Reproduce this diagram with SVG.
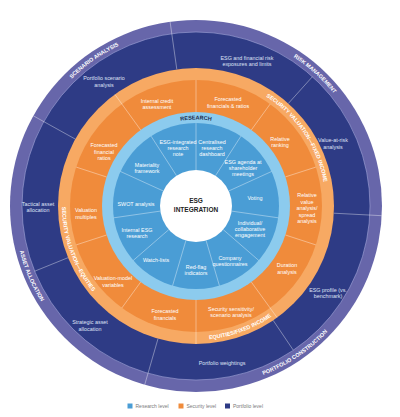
<svg xmlns="http://www.w3.org/2000/svg" width="400" height="417" viewBox="0 0 400 417">
<style>
.t{font-family:"Liberation Sans",Arial,sans-serif;font-size:5.4px;text-anchor:middle}
.w{fill:#ffffff}
.n{fill:#dfe2f5}
.b{font-family:"Liberation Sans",Arial,sans-serif;font-weight:bold;font-size:5.5px;fill:#ffffff}
.r{fill:#1c2a4c}
.dv{stroke:#ffffff;stroke-opacity:0.55;stroke-width:0.7;fill:none}
.lg{font-family:"Liberation Sans",Arial,sans-serif;font-size:5px;fill:#7a7a7a}
</style>
<defs>
<path id="pScen" d="M34.7,130.8 A178,178 0 0 1 180.5,28.7"/>
<path id="pRisk" d="M233.0,31.9 A178,178 0 0 1 365.3,151.0"/>
<path id="pPort" d="M177.0,387.0 A182,182 0 0 0 371.0,256.2"/>
<path id="pAsset" d="M22.0,152.8 A182,182 0 0 0 113.4,368.2"/>
<path id="pFix" d="M209.6,76.7 A130,130 0 0 1 321.0,241.8"/>
<path id="pEq" d="M80.0,139.0 A134,134 0 0 0 150.2,331.9"/>
<path id="pEF" d="M150.2,331.9 A134,134 0 0 0 312.0,273.0"/>
<path id="pRes" d="M140.4,139.7 A86.5,86.5 0 0 1 251.6,139.7"/>
</defs>
<rect width="400" height="417" fill="#ffffff"/>
<g id="rings">
<circle cx="196" cy="206" r="186" fill="#6766aa"/>
<circle cx="196" cy="206" r="174" fill="#2e3b85" stroke="#a3a6d8" stroke-width="0.6"/>
<circle cx="196" cy="206" r="138" fill="#f7a963"/>
<circle cx="196" cy="206" r="126" fill="#f08b3b"/>
<circle cx="196" cy="206" r="94" fill="#8ccbee"/>
<circle cx="196" cy="206" r="83" fill="#4a9dd5"/>
<circle cx="196" cy="206" r="36" fill="#ffffff"/>
</g>
<g id="connectors">
<path class="dv" d="M176.8,69.3L170.1,21.8M333.8,213.2L381.7,215.7M158.0,338.7L144.7,384.8M75.3,139.1L33.3,115.8"/>
<path class="dv" d="M288.3,103.5L312.4,76.7M273.2,320.4L293.3,350.2M68.0,257.7L34.7,271.2"/>
<path class="dv" d="M140.7,130.0L114.9,94.4M251.3,282.0L277.1,317.6M196,300L196,344"/>
<path class="dv" d="M196,112L196,80M251.3,130.0L270.1,104.1M285.4,176.9L315.8,167.1M285.4,235.0L315.8,244.9M140.7,282.0L121.9,307.9M106.6,235.0L76.2,244.9M106.6,177.0L76.2,167.1"/>
<path class="dv" d="M196,170L196,123M215.5,175.7L240.9,136.2M228.7,191.0L271.5,171.5M231.6,211.1L278.2,217.8M223.2,229.6L258.7,260.4M206.1,240.5L219.4,285.6M185.9,240.5L172.6,285.6M168.8,229.6L133.3,260.4M160.4,211.1L113.8,217.8M163.3,191.0L120.5,171.5M176.5,175.7L151.1,136.2"/>
</g>
<g id="band-labels">
<text class="b"><textPath href="#pScen" startOffset="50%" text-anchor="middle">SCENARIO ANALYSIS</textPath></text>
<text class="b"><textPath href="#pRisk" startOffset="50%" text-anchor="middle">RISK MANAGEMENT</textPath></text>
<text class="b"><textPath href="#pPort" startOffset="50%" text-anchor="middle">PORTFOLIO CONSTRUCTION</textPath></text>
<text class="b"><textPath href="#pAsset" startOffset="50%" text-anchor="middle">ASSET ALLOCATION</textPath></text>
<text class="b"><textPath href="#pFix" startOffset="50%" text-anchor="middle">SECURITY VALUATION—FIXED INCOME</textPath></text>
<text class="b"><textPath href="#pEq" startOffset="50%" text-anchor="middle">SECURITY VALUATION—EQUITIES</textPath></text>
<text class="b"><textPath href="#pEF" startOffset="50%" text-anchor="middle">EQUITIES/FIXED INCOME</textPath></text>
<text class="b r"><textPath href="#pRes" startOffset="50%" text-anchor="middle">RESEARCH</textPath></text>
</g>
<g id="center">
<text x="196" y="202.5" style="font-family:'Liberation Sans',Arial,sans-serif;font-weight:bold;font-size:6.5px;fill:#222;text-anchor:middle">ESG</text>
<text x="196" y="211.5" style="font-family:'Liberation Sans',Arial,sans-serif;font-weight:bold;font-size:6.5px;fill:#222;text-anchor:middle">INTEGRATION</text>
</g>
<g id="research-level">
<g id="r1"><text class="t w" x="178" y="144">ESG-integrated</text><text class="t w" x="178" y="150">research</text><text class="t w" x="178" y="156">note</text></g>
<g id="r2"><text class="t w" x="212" y="144">Centralised</text><text class="t w" x="212" y="150">research</text><text class="t w" x="212" y="156">dashboard</text></g>
<g id="r3"><text class="t w" x="243" y="164">ESG agenda at</text><text class="t w" x="243" y="170">shareholder</text><text class="t w" x="243" y="176">meetings</text></g>
<g id="r4"><text class="t w" x="255" y="200">Voting</text></g>
<g id="r5"><text class="t w" x="250" y="225">Individual/</text><text class="t w" x="250" y="231">collaborative</text><text class="t w" x="250" y="237">engagement</text></g>
<g id="r6"><text class="t w" x="230" y="259.5">Company</text><text class="t w" x="230" y="265.5">questionnaires</text></g>
<g id="r7"><text class="t w" x="196" y="269">Red-flag</text><text class="t w" x="196" y="275">indicators</text></g>
<g id="r8"><text class="t w" x="156" y="262">Watch-lists</text></g>
<g id="r9"><text class="t w" x="137" y="232">Internal ESG</text><text class="t w" x="137" y="238">research</text></g>
<g id="r10"><text class="t w" x="136" y="206">SWOT analysis</text></g>
<g id="r11"><text class="t w" x="147" y="167">Materiality</text><text class="t w" x="147" y="173">framework</text></g>
</g>
<g id="security-level">
<g id="s1"><text class="t w" x="157" y="103">Internal credit</text><text class="t w" x="157" y="109">assessment</text></g>
<g id="s2"><text class="t w" x="228" y="101">Forecasted</text><text class="t w" x="228" y="107.5">financials &amp; ratios</text></g>
<g id="s3"><text class="t w" x="280" y="140.5">Relative</text><text class="t w" x="280" y="147">ranking</text></g>
<g id="s4"><text class="t w" x="307" y="197">Relative</text><text class="t w" x="307" y="203.5">value</text><text class="t w" x="307" y="210">analysis/</text><text class="t w" x="307" y="216.5">spread</text><text class="t w" x="307" y="223">analysis</text></g>
<g id="s5"><text class="t w" x="287" y="267">Duration</text><text class="t w" x="287" y="273.5">analysis</text></g>
<g id="s6"><text class="t w" x="231" y="311">Security sensitivity/</text><text class="t w" x="231" y="317">scenario analysis</text></g>
<g id="s7"><text class="t w" x="165" y="313">Forecasted</text><text class="t w" x="165" y="319.5">financials</text></g>
<g id="s8"><text class="t w" x="113" y="280">Valuation-model</text><text class="t w" x="113" y="286.5">variables</text></g>
<g id="s9"><text class="t w" x="86" y="212">Valuation</text><text class="t w" x="86" y="218.5">multiples</text></g>
<g id="s10"><text class="t w" x="104" y="147">Forecasted</text><text class="t w" x="104" y="153.5">financial</text><text class="t w" x="104" y="160">ratios</text></g>
</g>
<g id="portfolio-level">
<g id="p1"><text class="t n" x="104" y="80">Portfolio scenario</text><text class="t n" x="104" y="86.5">analysis</text></g>
<g id="p2"><text class="t n" x="247" y="59.5">ESG and financial risk</text><text class="t n" x="247" y="66">exposures and limits</text></g>
<g id="p3"><text class="t n" x="333" y="142">Value-at-risk</text><text class="t n" x="333" y="148.5">analysis</text></g>
<g id="p4"><text class="t n" x="328" y="291.5">ESG profile (vs.</text><text class="t n" x="328" y="298">benchmark)</text></g>
<g id="p5"><text class="t n" x="222" y="365">Portfolio weightings</text></g>
<g id="p6"><text class="t n" x="90" y="324">Strategic asset</text><text class="t n" x="90" y="330.5">allocation</text></g>
<g id="p7"><text class="t n" x="38" y="205.5">Tactical asset</text><text class="t n" x="38" y="212">allocation</text></g>
</g>
<g id="legend">
<rect x="127.5" y="403.5" width="5" height="5" fill="#4a9dd5"/><text class="lg" x="135.5" y="408">Research level</text>
<rect x="178.5" y="403.5" width="5" height="5" fill="#f08b3b"/><text class="lg" x="186.5" y="408">Security level</text>
<rect x="225" y="403.5" width="5" height="5" fill="#2e3b85"/><text class="lg" x="233" y="408">Portfolio level</text>
</g>
</svg>
